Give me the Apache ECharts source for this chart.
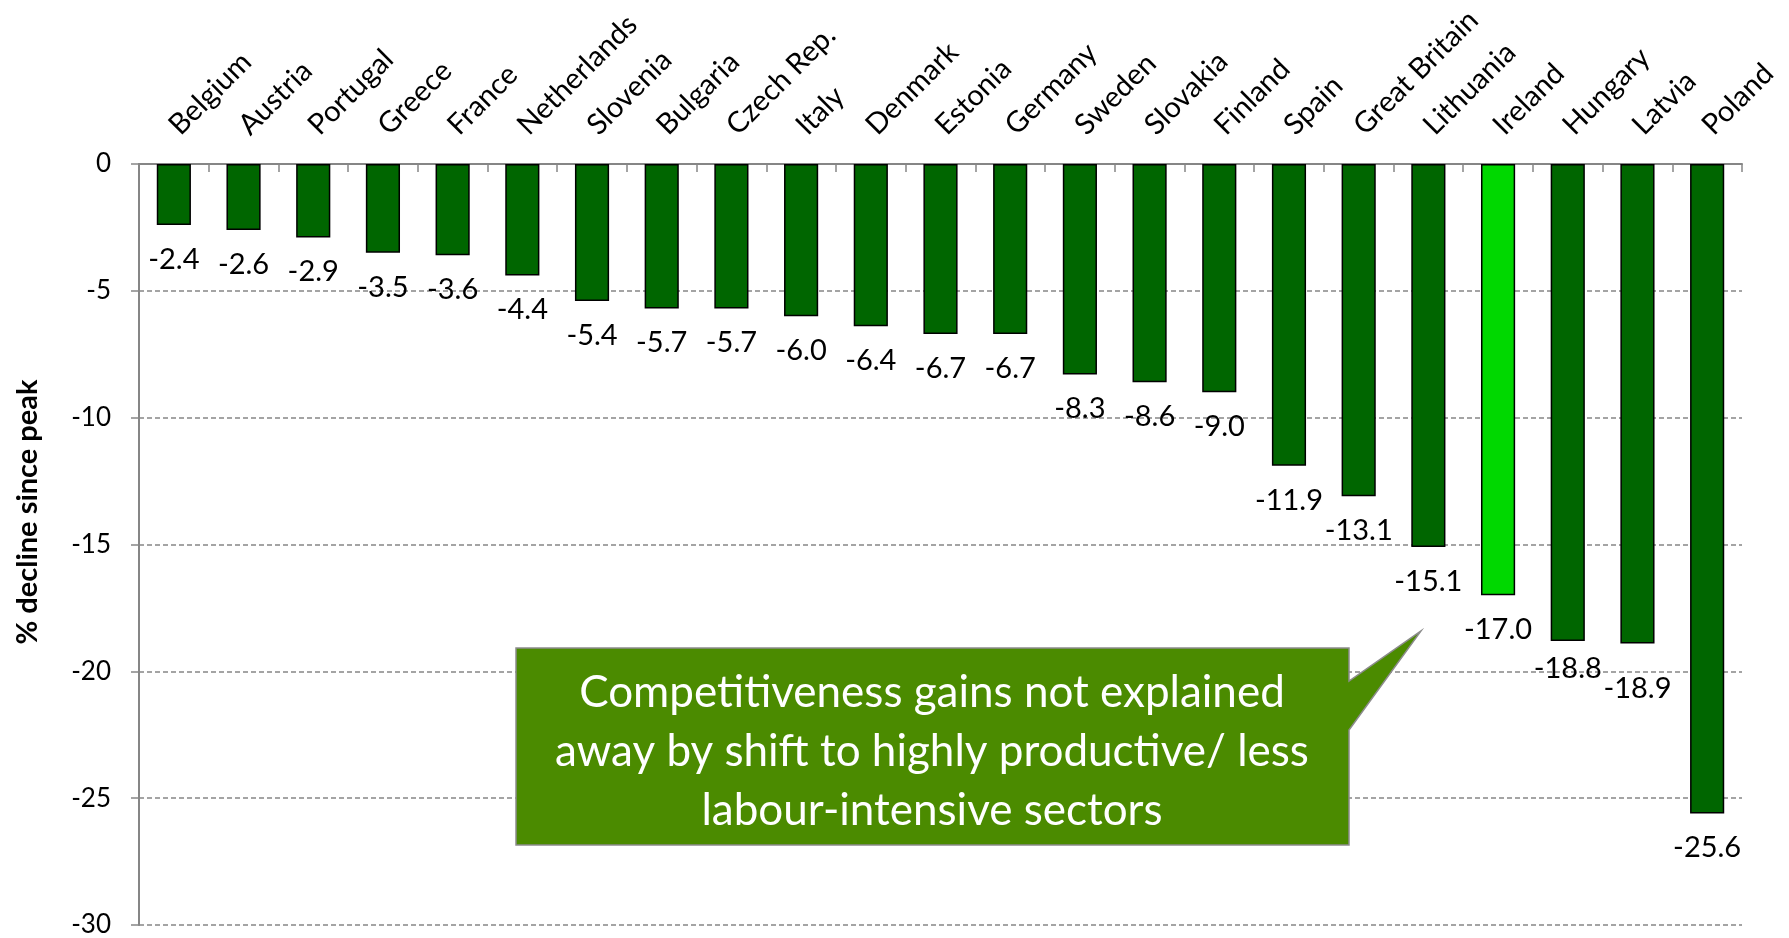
<!DOCTYPE html>
<html>
<head>
<meta charset="utf-8">
<script src="https://cdn.jsdelivr.net/npm/echarts@6/dist/echarts.min.js"></script>
<style>
html,body{margin:0;padding:0;background:#fff;}
#chart{width:1789px;height:938px;}
</style>
</head>
<body>
<div id="chart"></div>
<script>
const countries = ["Belgium","Austria","Portugal","Greece","France","Netherlands","Slovenia","Bulgaria","Czech Rep.","Italy","Denmark","Estonia","Germany","Sweden","Slovakia","Finland","Spain","Great Britain","Lithuania","Ireland","Hungary","Latvia","Poland"];
const declines = [-2.4,-2.6,-2.9,-3.5,-3.6,-4.4,-5.4,-5.7,-5.7,-6.0,-6.4,-6.7,-6.7,-8.3,-8.6,-9.0,-11.9,-13.1,-15.1,-17.0,-18.8,-18.9,-25.6];
const highlighted = ["Ireland"];
const yTicks = [0,-5,-10,-15,-20,-25,-30];
const yAxisTitle = "% decline since peak";
const calloutLines = ["Competitiveness gains not explained","away by shift to highly productive/ less","labour-intensive sectors"];

const FONT = "Lato, 'Open Sans', sans-serif";
const DARK = "#006600";
const BRIGHT = "#00D800";
// small manual nudges of overlapping value labels, as in the original
const labelNudge = {"Hungary":[0,-7],"Latvia":[0,11]};

const chart = echarts.init(document.getElementById('chart'), null, {renderer:'canvas'});
const option = {
  animation:false,
  backgroundColor:'#ffffff',
  grid:{left:139,right:47,top:164,bottom:10,containLabel:false},
  xAxis:{
    type:'category',
    position:'top',
    data:countries,
    boundaryGap:true,
    axisLine:{show:true,lineStyle:{color:'#868686',width:2}},
    axisTick:{show:true,inside:true,length:8,alignWithLabel:false,lineStyle:{color:'#868686',width:1.5}},
    axisLabel:{rotate:45,margin:34,interval:0,color:'#000',fontFamily:FONT,fontSize:29},
    splitLine:{show:false}
  },
  yAxis:{
    type:'value',
    min:-30,max:0,interval:5,
    axisLine:{show:true,lineStyle:{color:'#868686',width:2}},
    axisTick:{show:true,length:8,lineStyle:{color:'#868686',width:1.5}},
    axisLabel:{margin:28,color:'#000',fontFamily:FONT,fontSize:26,
      formatter:function(v){return yTicks.indexOf(v)>=0?String(v):'';}},
    splitLine:{show:true,lineStyle:{color:'#868686',width:1.5,type:[5,3]}}
  },
  series:[{
    type:'bar',
    data:declines.map((v,i)=>{
      const d={value:v,itemStyle:{color:highlighted.indexOf(countries[i])>=0?BRIGHT:DARK}};
      if(labelNudge[countries[i]]) d.label={offset:labelNudge[countries[i]]};
      return d;
    }),
    barCategoryGap:'51%',
    itemStyle:{borderColor:'#000',borderWidth:1.5},
    label:{show:true,position:'bottom',distance:20,color:'#000',fontFamily:FONT,fontSize:29,
      formatter:function(p){return p.value.toFixed(1);}}
  }],
  graphic:[
    {type:'text',x:28,y:512,rotation:Math.PI/2,
     style:{text:yAxisTitle,font:"bold 29px "+FONT,fill:'#000',textAlign:'center',textVerticalAlign:'middle'}},
    {type:'polygon',z:50,
     shape:{points:[[516,648],[1349,648],[1349,681],[1421,631],[1349,730],[1349,845],[516,845]]},
     style:{fill:'#4B8B00',stroke:'#8c8c8c',lineWidth:1.5}},
    {type:'text',z:52,x:932,y:752,
     style:{text:calloutLines.join('\n'),font:"44px "+FONT,lineHeight:59,fill:'#fff',textAlign:'center',textVerticalAlign:'middle'}}
  ]
};
chart.setOption(option);
</script>
</body>
</html>
